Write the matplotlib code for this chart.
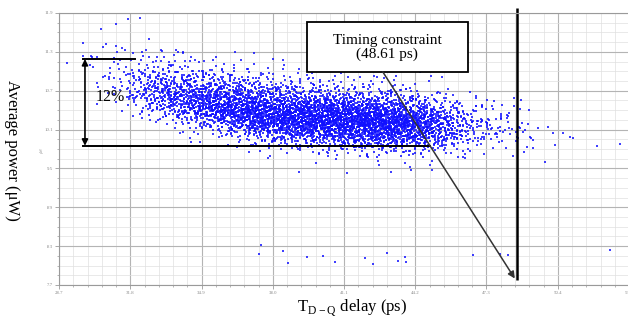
import matplotlib
matplotlib.use("Agg")
import matplotlib.pyplot as plt
from matplotlib.patches import Rectangle
from matplotlib.ticker import AutoMinorLocator

plt.rcParams["font.family"] = ["Liberation Serif", "DejaVu Serif"]
plt.rcParams["mathtext.fontset"] = "custom"
plt.rcParams["mathtext.rm"] = "Liberation Serif"

# axis ticks
x_ticks = [28.7, 31.8, 34.9, 38.0, 41.1, 44.2, 47.3, 50.4, 53.5]
y_ticks = [7.7, 8.3, 8.9, 9.5, 10.1, 10.7, 11.3, 11.9]

# main cloud: point counts per cell (columns 1 ps wide, rows 0.2 uW tall)
band_cols = [30, 31, 32, 33, 34, 35, 36, 37, 38, 39, 40, 41, 42, 43, 44, 45, 46, 47, 48]
band_rows = [9.52, 9.72, 9.92, 10.12, 10.32, 10.52, 10.72, 10.92, 11.12]
band_counts = [
    [0, 0, 0, 0, 0, 1, 2, 2, 1],
    [0, 0, 0, 0, 2, 7, 13, 10, 4],
    [0, 0, 0, 1, 14, 45, 42, 18, 6],
    [0, 0, 0, 7, 42, 84, 53, 18, 6],
    [0, 0, 3, 21, 91, 98, 49, 14, 4],
    [0, 0, 7, 49, 133, 105, 42, 11, 3],
    [0, 1, 17, 98, 161, 98, 35, 8, 1],
    [0, 4, 42, 154, 161, 73, 22, 6, 0],
    [0, 7, 63, 182, 154, 63, 17, 4, 0],
    [1, 11, 84, 196, 154, 56, 13, 3, 0],
    [1, 14, 105, 203, 147, 48, 11, 3, 0],
    [1, 20, 119, 203, 140, 39, 8, 1, 0],
    [3, 22, 133, 196, 123, 34, 7, 0, 0],
    [3, 25, 133, 182, 101, 27, 6, 0, 0],
    [3, 21, 112, 140, 70, 15, 3, 0, 0],
    [1, 14, 70, 81, 35, 7, 1, 0, 0],
    [1, 7, 28, 31, 14, 3, 0, 0, 0],
    [0, 4, 15, 16, 8, 1, 0, 0, 0],
    [0, 2, 10, 10, 5, 1, 0, 0, 0],
]

# isolated samples
upper_x = [29.05, 29.75, 30.53, 31.18, 31.70, 32.22, 32.61, 30.61, 31.18, 31.22, 31.44,
           32.48, 33.13, 33.87, 30.13, 30.35, 29.75, 30.74, 32.96, 35.26, 36.92, 33.66,
           30.18, 30.61, 30.92]
upper_y = [11.13, 11.44, 11.65, 11.73, 11.81, 11.82, 11.50, 11.37, 11.39, 11.30, 11.36,
           11.33, 11.33, 11.30, 11.22, 11.22, 11.24, 11.42, 11.22, 11.02, 10.91, 11.10,
           11.07, 10.91, 11.05]
right_x = [48.88, 49.18, 49.31, 49.53, 49.96, 50.18, 50.27, 50.61, 50.92, 51.05, 52.09,
           53.09, 49.05, 49.31, 46.05, 46.27]
right_y = [10.06, 9.99, 9.94, 10.12, 10.14, 10.05, 9.86, 10.05, 9.99, 9.97, 9.85,
           9.88, 9.83, 9.82, 9.68, 9.68]
low_x = [37.48, 37.40, 38.44, 38.66, 39.48, 40.18, 40.70, 42.01, 42.35, 42.96, 43.44,
         43.74, 43.79, 46.70, 47.88, 48.22, 52.66, 43.74, 49.83]
low_y = [8.32, 8.18, 8.23, 8.04, 8.13, 8.15, 8.06, 8.12, 8.02, 8.19, 8.07,
         8.13, 8.06, 8.16, 8.18, 8.16, 8.24, 9.58, 9.60]

timing_limit = 48.61
span_top = 11.19
span_bottom = 9.85


def halton(i, base):
    f, r = 1.0, 0.0
    while i > 0:
        f /= base
        r += f * (i % base)
        i //= base
    return r


# lay each cell's points out with a tent profile two cells wide, so
# neighbouring cells blend smoothly (Halton low-discrepancy layout)
cloud_x, cloud_y = [], []
k = 0
for ci, x0 in enumerate(band_cols):
    for ri, y0 in enumerate(band_rows):
        for _ in range(band_counts[ci][ri]):
            k += 1
            cloud_x.append(x0 - 0.5 + halton(k, 2) + halton(k, 3))
            cloud_y.append(y0 - 0.1 + 0.2 * (halton(k, 5) + halton(k, 7)))

fig = plt.figure(figsize=(6.28, 3.2), dpi=100)
ax = fig.add_axes([59 / 628, 1 - 285 / 320, 570 / 628, 272 / 320])

dot = dict(marker="s", s=2.4, color="#1010ff", alpha=0.8, linewidths=0)
ax.scatter(cloud_x, cloud_y, **dot)
ax.scatter(upper_x + right_x + low_x, upper_y + right_y + low_y, **dot)

ax.set_xlim(x_ticks[0], x_ticks[-1])
ax.set_ylim(y_ticks[0], y_ticks[-1])
ax.set_xticks(x_ticks)
ax.set_yticks(y_ticks)
ax.set_xticklabels([f"{v:.1f}" for v in x_ticks])
ax.set_yticklabels([f"{v:.1f}" for v in y_ticks])
ax.xaxis.set_minor_locator(AutoMinorLocator(5))
ax.yaxis.set_minor_locator(AutoMinorLocator(4))
ax.grid(which="major", color="#b4b4b4", lw=0.8)
ax.grid(which="minor", color="#e0e0e0", lw=0.5)
ax.set_axisbelow(True)
for side, sp in ax.spines.items():
    sp.set_color("#9a9a9a")
    sp.set_linewidth(0.8)
ax.tick_params(which="major", length=3, width=0.6, color="#9a9a9a",
               labelsize=3.5, labelcolor="#8a8a8a", pad=1.5)
ax.tick_params(which="minor", length=1.5, width=0.5, color="#9a9a9a")

fig.text(352 / 628, 1 - 308 / 320, r"T$_{\mathregular{D-Q}}$ delay (ps)",
         fontsize=12, ha="center", va="center")
fig.text(12 / 628, 1 - 150 / 320, "Average power (\u03bcW)", rotation=270,
         fontsize=12, ha="center", va="center")
fig.text(42 / 628, 1 - 150 / 320, "\u03bcW", rotation=90, fontsize=3,
         color="#9a9a9a", ha="center", va="center")

# 12 % spread markers
ax.plot([29.74, 32.00], [span_top, span_top], color="black", lw=1.4)
ax.plot([29.74, 44.83], [span_bottom, span_bottom], color="black", lw=1.4)
ax.annotate("", xy=(29.83, span_top), xytext=(29.83, span_bottom),
            arrowprops=dict(arrowstyle="<|-|>", color="black", lw=1.2,
                            mutation_scale=9, shrinkA=0, shrinkB=0))
ax.text(30.92, 10.60, "12%", fontsize=11.5, ha="center", va="center")

# timing constraint
ax.plot([timing_limit, timing_limit], [11.98, 7.78], color="black", lw=1.8,
        clip_on=False, solid_capstyle="butt")
ax.add_patch(Rectangle((39.48, 10.99), 7.00, 0.77, facecolor="white",
                       edgecolor="black", lw=1.3, zorder=5))
ax.text(42.98, 11.37, "Timing constraint\n(48.61 ps)", fontsize=11,
        ha="center", va="center", linespacing=1.1, zorder=6)
ax.annotate("", xy=(48.53, 7.80), xytext=(42.79, 10.99),
            arrowprops=dict(arrowstyle="-|>", color="#333333", lw=1.1,
                            mutation_scale=10, shrinkA=0, shrinkB=0), zorder=6)

fig.savefig("out.png", dpi=100)
